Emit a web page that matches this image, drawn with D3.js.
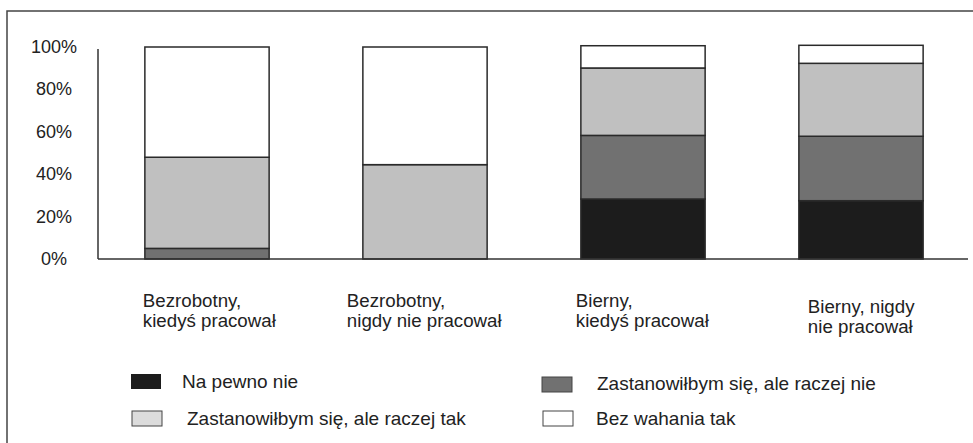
<!DOCTYPE html>
<html>
<head>
<meta charset="utf-8">
<script src="https://cdn.jsdelivr.net/npm/d3@7"></script>
<style>
  html, body { margin: 0; padding: 0; background: #fff; }
  svg { display: block; font-family: "Liberation Sans", Arial, Helvetica, sans-serif; }
</style>
</head>
<body>
<svg id="chart" width="973" height="443"></svg>
<script>
// ---- data ----
const categories = [
  ["Bezrobotny,", "kiedyś pracował"],
  ["Bezrobotny,", "nigdy nie pracował"],
  ["Bierny,", "kiedyś pracował"],
  ["Bierny, nigdy", "nie pracował"]
];
const seriesNames = [
  "Na pewno nie",
  "Zastanowiłbym się, ale raczej nie",
  "Zastanowiłbym się, ale raczej tak",
  "Bez wahania tak"
];
const naPewnoNie       = [0, 0, 28.3, 27.5];
const raczejNie        = [5, 0, 30.0, 30.4];
const raczejTak        = [43, 44.5, 31.8, 34.4];
const bezWahaniaTak    = [52, 55.5, 10.5, 8.5];
const yTickValues = [0, 20, 40, 60, 80, 100];
const yTickLabels = ["0%", "20%", "40%", "60%", "80%", "100%"];

// ---- style / layout ----
const barColors = ["#1c1c1c", "#717171", "#c0c0c0", "#ffffff"];
const legendColors = ["#1c1c1c", "#717171", "#dcdcdc", "#ffffff"];
const labelDx = [-2, -16, -5, 9];
const labelDy = [0, 0, 0, 6];

const svg = d3.select("#chart");

// frame
svg.append("path")
  .attr("d", "M7,443 L7,11 L973,11")
  .attr("fill", "none").attr("stroke", "#444").attr("stroke-width", 1.5);

const x = d3.scaleBand()
  .domain(d3.range(categories.length))
  .range([98, 970])
  .paddingInner(0.43)
  .paddingOuter(0.215);

const y = d3.scaleLinear().domain([0, 100]).range([259, 47]);

const rows = categories.map((c, i) => ({
  i,
  s0: naPewnoNie[i], s1: raczejNie[i], s2: raczejTak[i], s3: bezWahaniaTak[i]
}));
const stack = d3.stack().keys(["s0", "s1", "s2", "s3"]);
const stacked = stack(rows);

const g = svg.append("g");
stacked.forEach((layer, k) => {
  g.selectAll(null).data(layer).enter()
    .filter(d => d[1] - d[0] > 0)
    .append("rect")
    .attr("x", d => x(d.data.i))
    .attr("width", x.bandwidth())
    .attr("y", d => y(d[1]))
    .attr("height", d => y(d[0]) - y(d[1]))
    .attr("fill", barColors[k])
    .attr("stroke", "#2a2a2a")
    .attr("stroke-width", 1.5);
});

// axes
svg.append("line")
  .attr("x1", 98).attr("x2", 98)
  .attr("y1", y(100) + 2).attr("y2", y(0))
  .attr("stroke", "#333").attr("stroke-width", 1.5);
svg.append("line")
  .attr("x1", 98).attr("x2", 968)
  .attr("y1", y(0)).attr("y2", y(0))
  .attr("stroke", "#333").attr("stroke-width", 1.5);

// y tick labels
svg.selectAll(".ytick").data(yTickValues).enter()
  .append("text")
  .attr("class", "ytick")
  .attr("x", 54)
  .attr("y", d => y(d) + 6)
  .attr("text-anchor", "middle")
  .attr("font-size", 18)
  .attr("fill", "#222")
  .text((d, i) => yTickLabels[i]);

// category labels
categories.forEach((lines, i) => {
  const t = svg.append("text")
    .attr("x", x(i) + labelDx[i])
    .attr("y", 307 + labelDy[i])
    .attr("font-size", 18.7)
    .attr("fill", "#222");
  lines.forEach((ln, j) => {
    t.append("tspan")
      .attr("x", x(i) + labelDx[i])
      .attr("dy", j === 0 ? 0 : 20)
      .text(ln);
  });
});

// legend
const legendItems = [
  { k: 0, sx: 131, sy: 374, tx: 182, ty: 388 },
  { k: 1, sx: 542, sy: 377, tx: 597, ty: 390 },
  { k: 2, sx: 132, sy: 411, tx: 187, ty: 425 },
  { k: 3, sx: 543, sy: 411, tx: 596, ty: 425 }
];
legendItems.forEach(it => {
  svg.append("rect")
    .attr("x", it.sx).attr("y", it.sy)
    .attr("width", 30).attr("height", 15)
    .attr("fill", legendColors[it.k])
    .attr("stroke", it.k === 0 ? "none" : "#444")
    .attr("stroke-width", 1);
  svg.append("text")
    .attr("x", it.tx).attr("y", it.ty)
    .attr("font-size", 19)
    .attr("fill", "#222")
    .text(seriesNames[it.k]);
});
</script>
</body>
</html>
